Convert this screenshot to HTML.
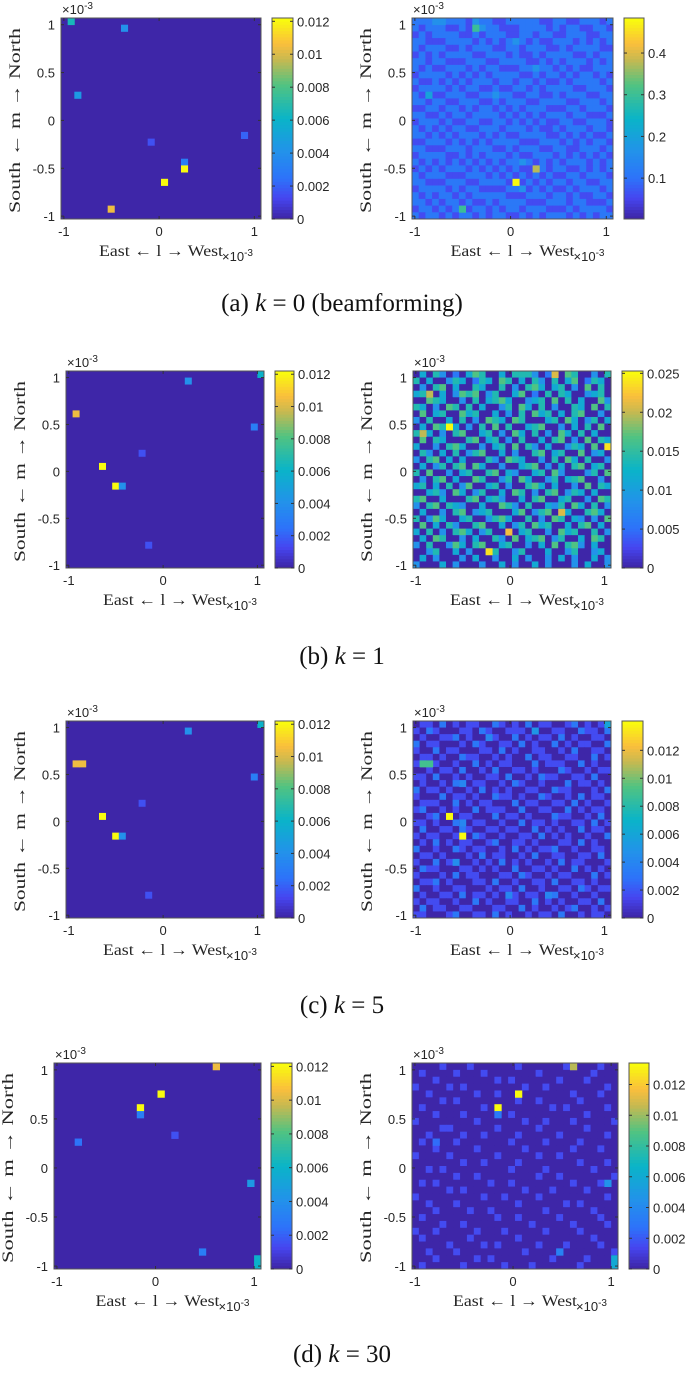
<!DOCTYPE html>
<html><head><meta charset="utf-8">
<style>
html,body{margin:0;padding:0;background:#fff;}
svg{display:block;}
.tk{font-family:"Liberation Sans",Arial,sans-serif;font-size:13px;fill:#262626;}
.lab{font-family:"Liberation Serif","DejaVu Serif",serif;font-size:16px;fill:#262626;}
.cap{font-family:"Liberation Serif","DejaVu Serif",serif;font-size:25px;fill:#111;}
</style></head>
<body>
<svg id="fig" width="685" height="1373" viewBox="0 0 685 1373" xmlns="http://www.w3.org/2000/svg">
  <text class="cap" x="342" y="311" text-anchor="middle">(a) <tspan font-style="italic">k</tspan> = 0 (beamforming)</text>
  <text class="cap" x="342" y="664" text-anchor="middle">(b) <tspan font-style="italic">k</tspan> = 1</text>
  <text class="cap" x="342" y="1013" text-anchor="middle">(c) <tspan font-style="italic">k</tspan> = 5</text>
  <text class="cap" x="342" y="1362" text-anchor="middle">(d) <tspan font-style="italic">k</tspan> = 30</text>
</svg>
<script>
// ---------- data ----------
const axisMin = -1.03, axisMax = 1.07;
const xTicks = [-1, 0, 1];
const yTicks = [-1, -0.5, 0, 0.5, 1];
const yTickLabels = ["-1", "-0.5", "0", "0.5", "1"];
const climA_L = [0, 0.0122], climA_R = [0.002, 0.484];
const climB_L = [0, 0.0122], climB_R = [0, 0.0253];
const climC_L = [0, 0.0122], climC_R = [0, 0.0141];
const climD_L = [0, 0.0122], climD_R = [0, 0.0134];
const cbTicksA_L = [0, 0.002, 0.004, 0.006, 0.008, 0.01, 0.012];
const cbLabelsA_L = ["0", "0.002", "0.004", "0.006", "0.008", "0.01", "0.012"];
const cbTicksA_R = [0.1, 0.2, 0.3, 0.4];
const cbLabelsA_R = ["0.1", "0.2", "0.3", "0.4"];
const cbTicksB_R = [0, 0.005, 0.01, 0.015, 0.02, 0.025];
const cbLabelsB_R = ["0", "0.005", "0.01", "0.015", "0.02", "0.025"];
const peaksA_L = [[-0.93,1.02,0.0065],[-0.35,0.96,0.004],[-0.85,0.27,0.0045],[-0.08,-0.22,0.0015],[0.9,-0.15,0.002],[0.28,-0.43,0.003],[0.28,-0.5,0.0122],[0.07,-0.64,0.0122],[-0.49,-0.92,0.0105]];
const peaksA_R = [[-0.35,0.96,0.30],[0.07,-0.65,0.484],[0.28,-0.5,0.38],[-0.5,-0.91,0.30],[-0.85,0.27,0.2],[-0.8,1.04,0.16],[-0.73,1.04,0.16]];
const peaksB_L = [[0.27,0.95,0.004],[1.05,1.03,0.006],[-0.93,0.61,0.0105],[0.96,0.47,0.003],[-0.22,0.19,0.0015],[-0.65,0.05,0.0122],[-0.51,-0.16,0.0122],[-0.44,-0.16,0.004],[-0.16,-0.78,0.0015]];
const peaksB_R = [[-0.65,0.5,0.0253],[1.05,0.3,0.024],[-0.93,0.4,0.02],[0,-0.68,0.022],[0.55,-0.4,0.021],[-0.86,0.85,0.02],[0.5,1.03,0.021],[-0.23,-0.85,0.024]];
const peaksC_L = [[0.27,0.95,0.004],[1.05,1.03,0.006],[-0.93,0.61,0.0105],[-0.86,0.61,0.0105],[0.96,0.47,0.003],[-0.22,0.19,0.0015],[-0.65,0.05,0.0122],[-0.51,-0.16,0.0122],[-0.44,-0.16,0.004],[-0.16,-0.78,0.0015]];
const peaksC_R = [[-0.93,0.61,0.009],[-0.86,0.61,0.009],[-0.65,0.05,0.0141],[-0.51,-0.16,0.0141],[0.27,0.95,0.005],[1.05,1.03,0.006],[-0.51,-0.02,0.004],[-0.58,-0.44,0.0045],[-0.51,0.41,0.004],[-0.2,0.87,0.004],[0.4,-0.8,0.004],[-0.02,-0.78,0.004]];
const peaksD_L = [[0.62,1.03,0.0105],[0.05,0.75,0.0122],[-0.16,0.61,0.0122],[-0.16,0.54,0.003],[0.2,0.33,0.0015],[-0.78,0.26,0.0025],[0.97,-0.16,0.0045],[0.48,-0.85,0.003],[1.05,-0.92,0.006],[1.05,-0.96,0.006]];
const peaksD_R = [[0.62,1.03,0.0105],[0.05,0.75,0.0134],[-0.16,0.61,0.0134],[-0.16,0.54,0.003],[-0.78,0.26,0.0025],[0.97,-0.16,0.0045],[0.48,-0.85,0.0035],[1.05,-0.92,0.006],[1.05,-0.96,0.006]];
const gridA_R = [
"222112221322112222211221122212","212221121232211122221212211221","121222211212221122122112221122","221112222121212321211222121212",
"212221121222112212221121222211","121212222112221211212222112122","221221112221122221121212221212","212112221212211122322121211222",
"122221212121222211212212122121","211212121222122122121121222212","122221212211211221212222112221","212112221122322112211212221122",
"221221122211212221122221122212","112212212122121212221112212221","221121221222212121212221221112","122212112211221212121122112221",
"212121221122212221211212221221","221212122212121122221121212112","112221212121222211122212121221","221112221222112122211221122212",
"122221121212221211222121212121","212121212121212232121212221212","121212221212121211221221121212","212221112221212121212112212221",
"221112221122221212121221221122","122221212211112231212112122212","212122121222221112221221211221","221212212112122221112221221112",
"122121221221212212221112122221","212212122121221121212221212122"];
const gridB_R = [
"040530204650040555302406500305","504003540254065040530504602540","030560400540050305640450306050","450040365603500460205054003450",
"006540030504564003450605040063","540306505040035064050300540605","060450064500403050645040560030","305004050306540650004506403504",
"040650403050605004560030405060","504030560045030640503064050400","060540005604503050040560306054","400305640030450605304003540605",
"053040503560040300560450060340","305604040005306540030506405003","040350560640030045603040560450","506003045005604300450630003506",
"030560400650035064003504560030","450405036004503005640400306054","004530640350040650305603540400","560040005604530040560045003065",
"305605430040065305004350640503","040030560345000460356004005640","503640045003564005030650430306","060405300560040350645004056040",
"405030564035006045003064500503","040650030400530604560350040650","305003640560045003040605630400","003500403004500350004003500340",
"040300030400300403003040300403","300040300030040300403000304003"];
const gridC_R = [
"011020101100210102011001201010","102100011021001110200110021102","010011201001100201011020100110","201100010210011020100201011002",
"100201100011020100110010200110","011010021100101002011001100201","120100100201011000201110020100","001011020010200110100021001011",
"110200101001102001021100110200","010010210110010210010002011010","201101001020101001100211000102","100020110100211010021001020110",
"011100201011000201100110201001","120010100201110020011002010110","001201011000201101000211001020","110100200110010020110100110201",
"020011021001101100201010020110","101100100210010011020101001002","010201011001200110100011020100","200100210110010201011200100110",
"011010001020110010200110011020","100201100101020101001020110001","021100011010100200110100201010","100010201100011021001011000201",
"011201000110200100110200110100","200100110001011020010011021011","010011020110100101100200100100","101100100201001100201010011020",
"020110011000110020100101200101","110001200110201001011020010110"];
const gridD_R = [
"000010001000000100000010000100","010000100010000000100000001000","000100000000101000000100010000","100001010000000010010000000010",
"001000000100100000000001000100","000010100000000100100000100000","010000000010000000001010000010","000100010000101000000000010000",
"100000000100000010010001000001","000011000000100000100000010000","001000010010000100000100000010","010000100000001000010000100000",
"000100000100000010000001000100","100001000000100000100100000000","000000010010000100000000100010","001010000000001000010000001000",
"000000100100000000100100000001","010100000001001000000001000100","000001010000000010001000010000","100000000010010000100000000010",
"001000100000000100000010100000","000100001001000000010000001000","010000000000100100000100000100","000010010000000001000001000010",
"100100000100010000010000100000","010000001000000100000000001000","000001000010100000100010000100","001000100000000010000100000001",
"000100000101000000001000010000","010000010000010001000000100000"];

// ---------- drawing ----------
const NS = "http://www.w3.org/2000/svg";
const svg = document.getElementById("fig");
const stops = [[0,[62,38,168]],[0.1,[70,70,240]],[0.2,[45,115,250]],[0.33,[35,145,235]],[0.5,[10,180,200]],[0.67,[80,195,130]],[0.8,[200,185,80]],[0.88,[250,190,60]],[1,[249,251,14]]];
function parula(t){
  t=Math.max(0,Math.min(1,t));
  for(let i=1;i<stops.length;i++){
    if(t<=stops[i][0]){
      const a=stops[i-1],b=stops[i],f=(t-a[0])/(b[0]-a[0]);
      const c=a[1].map((v,k)=>Math.round(v+(b[1][k]-v)*f));
      return `rgb(${c[0]},${c[1]},${c[2]})`;
    }
  }
  return "rgb(249,251,14)";
}
function mk(tag,attrs,parent){
  const e=document.createElementNS(NS,tag);
  for(const k in attrs) e.setAttribute(k,attrs[k]);
  (parent||svg).appendChild(e);
  return e;
}
const N=30;
function drawPanel(id, P, CB, clim, grid, peaks, cbTicks, cbLabels){
  const g=mk("g",{});
  
  
  const [px,py,pw,ph]=P;
  const sx=v=>px+(v-axisMin)/(axisMax-axisMin)*pw;
  const sy=v=>py+ph-(v-axisMin)/(axisMax-axisMin)*ph;
  const cw=pw/N, chh=ph/N;
  const bg=mk("rect",{x:px,y:py,width:pw,height:ph,fill:parula(0)},g);
  
  
  if(grid){
    for(let r=0;r<N;r++){for(let c=0;c<N;c++){
      const d=+grid[r][c];
      const v=clim[0]+d/9*(clim[1]-clim[0]);
      const cell=mk("rect",{x:(px+c*cw).toFixed(2),y:(py+r*chh).toFixed(2),width:(cw+0.4).toFixed(2),height:(chh+0.4).toFixed(2),fill:parula((v-clim[0])/(clim[1]-clim[0]))},g);
      
      
    }}
  }
  peaks.forEach(p=>{
    const c=Math.min(N-1,Math.floor((p[0]-axisMin)/(axisMax-axisMin)*N));
    const r=Math.min(N-1,Math.floor((axisMax-p[1])/(axisMax-axisMin)*N));
    const cell=mk("rect",{x:(px+c*cw).toFixed(2),y:(py+r*chh).toFixed(2),width:(cw+0.4).toFixed(2),height:(chh+0.4).toFixed(2),fill:parula((p[2]-clim[0])/(clim[1]-clim[0]))},g);
    
    
  });
  const fr=mk("rect",{x:px,y:py,width:pw,height:ph,fill:"none",stroke:"#555","stroke-width":1},g);
  
  
  xTicks.forEach(t=>{
    const x=sx(t);
    mk("line",{x1:x,y1:py+ph,x2:x,y2:py+ph-3,stroke:"#333"},g);
    mk("line",{x1:x,y1:py,x2:x,y2:py+3,stroke:"#333"},g);
    const tl=mk("text",{x:x,y:py+ph+17,"text-anchor":"middle",class:"tk"},g);
    tl.textContent=String(t);
    
    
  });
  yTicks.forEach((t,i)=>{
    const y=sy(t);
    mk("line",{x1:px,y1:y,x2:px+3,y2:y,stroke:"#333"},g);
    mk("line",{x1:px+pw,y1:y,x2:px+pw-3,y2:y,stroke:"#333"},g);
    const tl=mk("text",{x:px-6,y:y+5,"text-anchor":"end",class:"tk"},g);
    tl.textContent=yTickLabels[i];
    
    
  });
  const ex=mk("text",{x:px+1,y:py-4,class:"tk"},g);
  ex.innerHTML='×10<tspan dy="-5" font-size="10">-3</tspan>';
  
  
  const xl=mk("text",{x:px+pw/2-62,y:py+ph+37,class:"lab",textLength:"124",lengthAdjust:"spacingAndGlyphs"},g);
  xl.textContent="East ← l → West";
  
  
  const xe=mk("text",{x:px+pw/2+61,y:py+ph+42,class:"tk"},g);
  xe.innerHTML='×10<tspan dy="-5" font-size="10">-3</tspan>';
  
  
  const yl=mk("text",{x:-ph/2+6,y:0,class:"lab",textLength:String(ph-16),lengthAdjust:"spacingAndGlyphs",transform:`translate(${px-41},${py+ph/2}) rotate(-90)`},g);
  yl.textContent="South ← m → North";
  
  
  const [cx,cy,cwid,chgt]=CB;
  const cbg=mk("g",{},g);
  
  
  const steps=64;
  for(let i=0;i<steps;i++){
    mk("rect",{x:cx,y:(cy+chgt-(i+1)*chgt/steps).toFixed(2),width:cwid,height:(chgt/steps+0.5).toFixed(2),fill:parula(i/(steps-1))},cbg);
  }
  mk("rect",{x:cx,y:cy,width:cwid,height:chgt,fill:"none",stroke:"#555"},cbg);
  cbTicks.forEach((t,i)=>{
    const y=cy+chgt-(t-clim[0])/(clim[1]-clim[0])*chgt;
    mk("line",{x1:cx+cwid,y1:y,x2:cx+cwid-3,y2:y,stroke:"#333"},cbg);
    mk("line",{x1:cx,y1:y,x2:cx+3,y2:y,stroke:"#333"},cbg);
    const tl=mk("text",{x:cx+cwid+4,y:y+5,class:"tk"},cbg);
    tl.textContent=cbLabels[i];
    
    
  });
}
drawPanel("panel-a-left",[61,18,200,201],[272,18,21,201],climA_L,null,peaksA_L,cbTicksA_L,cbLabelsA_L);
drawPanel("panel-a-right",[412,18,201,201],[624,18,20,201],climA_R,gridA_R,peaksA_R,cbTicksA_R,cbLabelsA_R);
drawPanel("panel-b-left",[66,371,198,197],[275,371,19,197],climB_L,null,peaksB_L,cbTicksA_L,cbLabelsA_L);
drawPanel("panel-b-right",[413,371,198,197],[622,371,21,197],climB_R,gridB_R,peaksB_R,cbTicksB_R,cbLabelsB_R);
drawPanel("panel-c-left",[66,721,198,197],[275,721,19,197],climC_L,null,peaksC_L,cbTicksA_L,cbLabelsA_L);
drawPanel("panel-c-right",[413,721,198,197],[622,721,21,197],climC_R,gridC_R,peaksC_R,cbTicksA_L,cbLabelsA_L);
drawPanel("panel-d-left",[54,1063,207,206],[271,1063,21,206],climD_L,null,peaksD_L,cbTicksA_L,cbLabelsA_L);
drawPanel("panel-d-right",[412,1063,206,206],[629,1063,20,206],climD_R,gridD_R,peaksD_R,cbTicksA_L,cbLabelsA_L);
</script>
</body></html>
